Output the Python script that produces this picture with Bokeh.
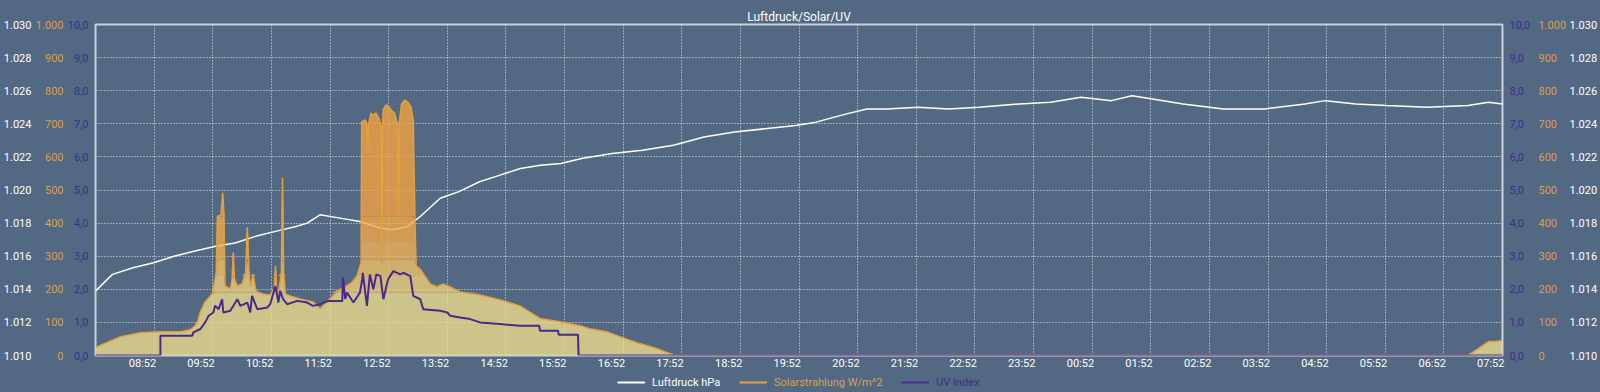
import numpy as np
from bokeh.plotting import figure
from bokeh.layouts import column
from bokeh.models import Range1d, LinearAxis, FixedTicker, Legend, LegendItem
from bokeh.embed import file_html
from bokeh.resources import INLINE

# ---------------- data ----------------
# time axis: hours since 07:52
time_labels = ["08:52", "09:52", "10:52", "11:52", "12:52", "13:52", "14:52", "15:52",
               "16:52", "17:52", "18:52", "19:52", "20:52", "21:52", "22:52", "23:52",
               "00:52", "01:52", "02:52", "03:52", "04:52", "05:52", "06:52", "07:52"]

pressure_ticks = [1010, 1012, 1014, 1016, 1018, 1020, 1022, 1024, 1026, 1028, 1030]
pressure_labels = ["1.010", "1.012", "1.014", "1.016", "1.018", "1.020", "1.022",
                   "1.024", "1.026", "1.028", "1.030"]
solar_ticks = [0, 100, 200, 300, 400, 500, 600, 700, 800, 900, 1000]
solar_labels = ["0", "100", "200", "300", "400", "500", "600", "700", "800", "900", "1.000"]
uv_ticks = [0, 1, 2, 3, 4, 5, 6, 7, 8, 9, 10]
uv_labels = ["0,0", "1,0", "2,0", "3,0", "4,0", "5,0", "6,0", "7,0", "8,0", "9,0", "10,0"]

series_names = ["Luftdruck hPa", "Solarstrahlung W/m^2", "UV Index"]

pressure_h = [0, 0.29, 0.64, 0.99, 1.34, 1.68, 2.05, 2.38, 2.73, 3.07,
              3.42, 3.61, 3.83, 4.17, 4.51, 4.86, 5.08, 5.32, 5.54, 5.88,
              6.20, 6.55, 6.90, 7.25, 7.59, 7.94, 8.29, 8.81, 9.33, 9.86,
              10.38, 10.90, 11.42, 11.94, 12.29, 12.81, 13.16, 13.50, 14.03, 14.55,
              15.07, 15.76, 16.29, 16.81, 17.33, 17.68, 18.03, 18.55, 19.24, 19.94,
              20.63, 20.98, 21.50, 22.02, 22.72, 23.41, 23.76, 24.00]
pressure_hpa = [1013.9, 1014.9, 1015.3, 1015.6, 1016.0, 1016.3, 1016.6, 1016.8, 1017.2, 1017.5,
                1017.8, 1018.0, 1018.5, 1018.3, 1018.1, 1017.7, 1017.6, 1017.8, 1018.4, 1019.5,
                1019.9, 1020.5, 1020.9, 1021.3, 1021.5, 1021.6, 1021.9, 1022.2, 1022.4, 1022.7,
                1023.2, 1023.5, 1023.7, 1023.9, 1024.1, 1024.6, 1024.9, 1024.9, 1025.0, 1024.9,
                1025.0, 1025.2, 1025.3, 1025.6, 1025.4, 1025.7, 1025.5, 1025.2, 1024.9, 1024.9,
                1025.2, 1025.4, 1025.2, 1025.1, 1025.0, 1025.1, 1025.3, 1025.2]

solar_h = [0.00, 0.43, 0.77, 1.11, 1.45, 1.62, 1.70, 1.74, 1.79, 1.87,
           1.99, 2.04, 2.06, 2.08, 2.14, 2.17, 2.19, 2.21, 2.30, 2.33,
           2.35, 2.37, 2.42, 2.50, 2.56, 2.59, 2.62, 2.64, 2.69, 2.73,
           2.76, 2.86, 2.98, 3.05, 3.07, 3.09, 3.12, 3.17, 3.19, 3.21,
           3.24, 3.32, 3.49, 3.71, 3.83, 4.00, 4.12, 4.26, 4.38, 4.46,
           4.53, 4.54, 4.60, 4.63, 4.645, 4.66, 4.70, 4.74, 4.78, 4.84,
           4.875, 4.885, 4.895, 4.91, 4.96, 5.01, 5.05, 5.10, 5.15, 5.165,
           5.18, 5.22, 5.28, 5.33, 5.38, 5.42, 5.45, 5.47, 5.54, 5.62,
           5.71, 5.83, 5.93, 6.05, 6.22, 6.56, 6.90, 7.24, 7.58, 7.92,
           8.26, 8.43, 8.72, 8.94, 9.28, 9.57, 9.74, 9.85, 9.90, 23.40,
           23.46, 23.59, 23.76, 23.88, 24.00]
solar_w = [24, 57, 69, 72, 72, 78, 90, 102, 132, 162,
           186, 230, 250, 420, 425, 492, 430, 210, 201, 230,
           312, 230, 210, 216, 250, 387, 250, 207, 246, 200,
           192, 186, 183, 200, 270, 200, 186, 250, 537, 250,
           186, 180, 171, 162, 141, 171, 195, 207, 222, 240,
           280, 706, 712, 700, 620, 700, 733, 725, 733, 715,
           690, 276, 690, 745, 757, 751, 740, 733, 700, 420,
           700, 760, 772, 765, 751, 712, 400, 270, 261, 240,
           216, 207, 216, 207, 192, 183, 168, 150, 112, 102,
           90, 81, 72, 57, 36, 21, 9, 3, 0, 0,
           6, 21, 42, 42, 45]

uv_h = [0, 1.107, 1.107, 1.65, 1.67, 1.79, 1.87, 1.93, 2.01, 2.04,
        2.10, 2.16, 2.18, 2.30, 2.42, 2.47, 2.59, 2.64, 2.67, 2.76,
        2.93, 2.98, 3.07, 3.12, 3.15, 3.20, 3.27, 3.44, 3.61, 3.71,
        3.83, 3.97, 4.21, 4.22, 4.26, 4.29, 4.40, 4.51, 4.55, 4.56,
        4.63, 4.68, 4.74, 4.79, 4.86, 4.91, 4.99, 5.08, 5.20, 5.25,
        5.37, 5.42, 5.54, 5.59, 5.88, 6.00, 6.05, 6.22, 6.39, 6.56,
        6.90, 7.24, 7.57, 7.58, 7.89, 7.90, 8.23, 8.24, 24.0]
uv_idx = [0, 0, 0.6, 0.6, 0.7, 0.8, 1.0, 1.2, 1.3, 1.5,
          1.4, 1.7, 1.3, 1.35, 1.7, 1.5, 1.6, 1.3, 1.8, 1.4,
          1.45, 1.55, 2.1, 1.6, 1.95, 1.7, 1.55, 1.65, 1.6, 1.5,
          1.55, 1.65, 1.65, 2.35, 1.7, 1.9, 1.6, 1.9, 2.3, 2.5,
          1.5, 2.45, 2.0, 2.45, 2.4, 1.7, 2.3, 2.55, 2.45, 2.5,
          2.4, 1.8, 1.7, 1.4, 1.35, 1.3, 1.2, 1.15, 1.1, 1.0,
          0.95, 0.9, 0.9, 0.75, 0.75, 0.63, 0.63, 0, 0]

# ---------------- style ----------------
BG = "#536883"
FONT = "Roboto"
C_P = "#ffffff"
C_S = "#e3a13c"
C_S_TXT = "#d9a14c"
C_UV = "#4a2890"
C_UV_TXT = "#3f2f8c"

p = figure(width=1600, height=372, x_range=Range1d(0, 1440), y_range=Range1d(1010, 1030),
           x_axis_location=None, y_axis_location=None, toolbar_location=None,
           output_backend="svg", background_fill_color=BG, border_fill_color=BG,
           min_border_left=95, min_border_right=96, min_border_top=24, min_border_bottom=15)
p.extra_y_ranges = {"solar": Range1d(0, 1000), "uv": Range1d(0, 10)}

p.title.text = "Luftdruck/Solar/UV"
p.title.align = "center"
p.title.text_color = "#ffffff"
p.title.text_font = FONT
p.title.text_font_size = "12px"
p.title.text_font_style = "normal"
p.title.standoff = 0
p.title.vertical_align = "middle"

p.outline_line_color = "#c9d0dc"
p.outline_line_width = 2

grid_hours = [60 * (i + 1) for i in range(len(time_labels))]
p.xgrid.ticker = FixedTicker(ticks=grid_hours)
p.ygrid.ticker = FixedTicker(ticks=pressure_ticks)
for g in (p.xgrid, p.ygrid):
    g.grid_line_color = "#ffffff"
    g.grid_line_alpha = 0.85
    g.grid_line_dash = "1 2"
    g.grid_line_width = 1


def y_axis(rng, ticks, labels, color, standoff):
    return LinearAxis(y_range_name=rng, ticker=FixedTicker(ticks=ticks),
                      major_label_overrides={t: l for t, l in zip(ticks, labels)},
                      major_label_standoff=standoff, major_tick_out=0, major_tick_in=0,
                      minor_tick_out=0, minor_tick_in=0, axis_line_color=None,
                      major_label_text_color=color, major_label_text_font=FONT,
                      major_label_text_font_size="11px")


# left side: nearest frame first
p.add_layout(y_axis("uv", uv_ticks, uv_labels, C_UV_TXT, 7), "left")
p.add_layout(y_axis("solar", solar_ticks, solar_labels, C_S_TXT, 1), "left")
p.add_layout(y_axis("default", pressure_ticks, pressure_labels, C_P, 1), "left")
# right side
p.add_layout(y_axis("uv", uv_ticks, uv_labels, C_UV_TXT, 7), "right")
p.add_layout(y_axis("solar", solar_ticks, solar_labels, C_S_TXT, 5), "right")
p.add_layout(y_axis("default", pressure_ticks, pressure_labels, C_P, 0), "right")

# x axis: labels sit just left of their grid line
label_pos = [60 * (i + 1) - 12 for i in range(len(time_labels))]
xax = LinearAxis(ticker=FixedTicker(ticks=label_pos),
                 major_label_overrides={t: l for t, l in zip(label_pos, time_labels)},
                 major_label_standoff=1, major_tick_out=0, major_tick_in=0,
                 minor_tick_out=0, minor_tick_in=0, axis_line_color=None,
                 major_label_text_color="#ffffff", major_label_text_font=FONT,
                 major_label_text_font_size="11px")
p.add_layout(xax, "below")

# ---------------- glyphs ----------------
px = np.array(pressure_h) * 60
p.line(px, pressure_hpa, line_color=C_P, line_width=1.5)

sx = np.array(solar_h) * 60
sw = np.array(solar_w, dtype=float)
edges = [0, 190, 240, 290, 340, 420, 1000]
band_cols = ["#ecdb8c", "#eecd7a", "#f0bf68", "#f2b256", "#f3a848", "#f3a340"]
for lo, hi, col in zip(edges[:-1], edges[1:], band_cols):
    p.varea(x=sx, y1=lo, y2=np.clip(sw, lo, hi), fill_color=col, fill_alpha=0.8,
            y_range_name="solar")
p.line(sx, sw, line_color=C_S, line_width=1.5, y_range_name="solar")

ux = np.array(uv_h) * 60
p.line(ux, uv_idx, line_color=C_UV, line_width=2, y_range_name="uv")

# ---------------- legend strip ----------------
lg_fig = figure(width=1600, height=20, x_range=Range1d(0, 1600), y_range=Range1d(0, 20),
                x_axis_location=None, y_axis_location=None, toolbar_location=None,
                output_backend="svg", background_fill_color=BG, border_fill_color=BG,
                min_border_left=0, min_border_right=0, min_border_top=0, min_border_bottom=0)
lg_fig.grid.visible = False
lg_fig.outline_line_color = None

# swatch renderers live outside the visible range; only their legend glyphs show
legend_specs = [(series_names[0], C_P, C_P, 2, 522),
                (series_names[1], C_S, C_S_TXT, 2, 644),
                (series_names[2], C_UV, C_UV_TXT, 2, 806)]
for name, lc, tc, lw, xpos in legend_specs:
    r = lg_fig.line(x=[-50, -40], y=[-50, -50], line_color=lc, line_width=lw)
    lg = Legend(items=[LegendItem(label=name, renderers=[r])], location=(xpos, 0),
                orientation="horizontal", padding=0, margin=0, spacing=0,
                glyph_width=28, glyph_height=20, label_height=20, label_standoff=7,
                label_text_color=tc, label_text_font=FONT, label_text_font_size="11px",
                background_fill_alpha=0, border_line_alpha=0)
    lg_fig.add_layout(lg)

layout = column(p, lg_fig, spacing=0)

html = file_html(layout, INLINE, title="Luftdruck/Solar/UV")
html = html.replace("<head>", "<head><style>html,body{margin:0;padding:0;overflow:hidden;background:%s;}</style>" % BG, 1)
open("out.html", "w").write(html)
